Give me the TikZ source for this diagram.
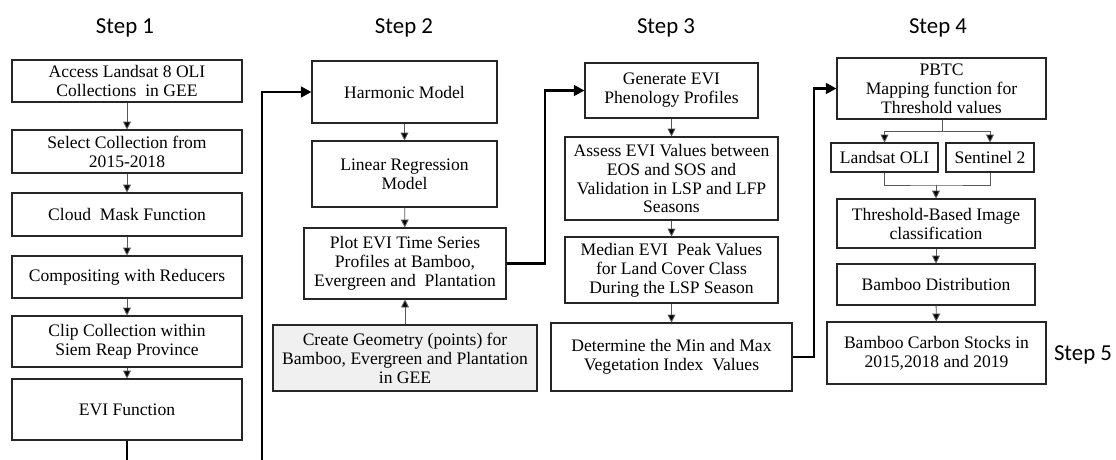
\documentclass[tikz,border=0pt]{standalone}
\usepackage{fontspec}
\setmainfont{Liberation Serif}
\newfontfamily\stepfont{Carlito}
\usepackage{tikz}
\usetikzlibrary{calc, arrows.meta}

\tikzset{
	box/.style={draw=black!85, line width=0.6pt, align=center, inner sep=1pt,
		font=\fontsize{10}{10.8}\selectfont},
	greybox/.style={box, fill=black!6},
	steplabel/.style={font=\stepfont\fontsize{13}{15}\selectfont},
	flow/.style={draw=black!65, line width=0.5pt, -{Triangle[length=4.5pt,width=4.5pt,fill=black]}},
	plain/.style={draw=black!65, line width=0.5pt},
	link/.style={draw=black, line width=1.6pt, -{Triangle[length=6pt,width=6pt]}}
}

\begin{document}
\begin{tikzpicture}
	\useasboundingbox (0,0) rectangle (22.32,-9.18);
	
	%step labels
	\node[steplabel] (s1) at (2.50,-0.56) {Step 1};
	\node[steplabel] (s2) at (8.08,-0.56) {Step 2};
	\node[steplabel] (s3) at (13.32,-0.56) {Step 3};
	\node[steplabel] (s4) at (18.76,-0.56) {Step 4};
	\node[steplabel] (s5) at (21.66,-7.10) {Step 5};
	
	%step 1 - nodes
	\node[box, minimum width=4.6cm, minimum height=0.84cm] (access)  at (2.54,-1.62) {Access Landsat 8 OLI\\Collections\ \ in GEE};
	\node[box, minimum width=4.6cm, minimum height=0.86cm] (select)  at (2.54,-3.03) {Select Collection from\\2015-2018};
	\node[box, minimum width=4.6cm, minimum height=0.86cm] (cloud)   at (2.54,-4.29) {Cloud\ \ Mask Function};
	\node[box, minimum width=4.6cm, minimum height=0.84cm] (compos)  at (2.54,-5.54) {Compositing with Reducers};
	\node[box, minimum width=4.6cm, minimum height=1.02cm] (clip)    at (2.54,-6.83) {Clip Collection within\\Siem Reap Province};
	\node[box, minimum width=4.6cm, minimum height=1.22cm] (evi)     at (2.54,-8.19) {EVI Function};
	
		%step 1 - lines
		\draw[flow] (access) -- (select);
		\draw[flow] (select) -- (cloud);
		\draw[flow] (cloud)  -- (compos);
		\draw[flow] (compos) -- (clip);
		\draw[flow] (clip)   -- (evi);
	
	%step 2 - nodes
	\node[box, minimum width=3.7cm, minimum height=1.24cm]      (harm)    at (8.09,-1.84) {Harmonic Model};
	\node[box, minimum width=3.7cm, minimum height=1.32cm]      (linreg)  at (8.09,-3.48) {Linear Regression\\Model};
	\node[box, minimum width=4.04cm, minimum height=1.42cm]     (plot)    at (8.10,-5.27) {Plot EVI Time Series\\Profiles at Bamboo,\\Evergreen and\ \ Plantation};
	\node[greybox, minimum width=5.28cm, minimum height=1.32cm] (geom)    at (8.10,-7.16) {Create Geometry (points) for\\Bamboo, Evergreen and Plantation\\in GEE};
	
		%step 2 - lines
		\draw[flow] (harm)   -- (linreg);
		\draw[flow] (linreg) -- (plot);
		\draw[flow] (geom)   -- (plot);
	
	%step 3 - nodes
	\node[box, minimum width=3.46cm, minimum height=1.1cm]  (gen)     at (13.43,-1.81) {Generate EVI\\Phenology Profiles};
	\node[box, minimum width=4.26cm, minimum height=1.66cm] (assess)  at (13.43,-3.57) {Assess EVI Values between\\EOS and SOS and\\Validation in LSP and LFP\\Seasons};
	\node[box, minimum width=4.26cm, minimum height=1.32cm] (median)  at (13.43,-5.40) {Median EVI\ \ Peak Values\\for Land\ Cover Class\\During the LSP Season};
	\node[box, minimum width=4.82cm, minimum height=1.36cm] (determ)  at (13.43,-7.14) {Determine the Min and\ Max\\Vegetation Index\ \ Values};
	
		%step 3 - lines
		\draw[flow] (gen)    -- (assess);
		\draw[flow] (assess) -- (median);
		\draw[flow] (median) -- (determ);
	
	%step 4 - nodes
	\node[box, minimum width=4.18cm, minimum height=1.22cm] (pbtc)     at (18.83,-1.77) {PBTC\\Mapping function for\\Threshold values};
	\node[box, minimum width=2.14cm, minimum height=0.58cm] (landsat)  at (17.69,-3.15) {Landsat OLI};
	\node[box, minimum width=1.76cm, minimum height=0.58cm] (sentinel) at (19.80,-3.15) {Sentinel 2};
	\node[box, minimum width=3.96cm, minimum height=0.98cm] (thresh)   at (18.72,-4.47) {Threshold-Based Image\\classification};
	\node[box, minimum width=3.96cm, minimum height=0.82cm] (dist)     at (18.72,-5.69) {Bamboo Distribution};
	\node[box, minimum width=4.38cm, minimum height=1.24cm] (carbon)   at (18.73,-7.06) {Bamboo Carbon Stocks in\\2015,2018 and 2019};
	
		%step 4 - lines
		\coordinate (split) at (18.84,-2.62);
		\coordinate (merge) at (18.72,-3.70);
		\draw[plain] (pbtc.south -| split) -- (split);
		\draw[flow] (split) -| (landsat.north);
		\draw[flow] (split) -| (sentinel.north);
		\draw[plain] (landsat.south) |- (merge) -| (sentinel.south);
		\draw[flow] (merge)  -- (thresh.north);
		\draw[flow] (thresh) -- (dist);
		\draw[flow] (dist)   -- (carbon);
	
	%links between steps
	\coordinate (bend1) at (5.24,-9.6);
	\coordinate (bend2) at (10.90,0);
	\coordinate (bend3) at (16.28,0);
	\draw[link] (evi.south) -- (evi.south |- bend1) -- (bend1) |- (harm.west);		%evi--harmonic
	\draw[link] (plot.east) -- (plot.east -| bend2) |- (gen.west);					%plot--generate
	\draw[link] (determ.east) -- (determ.east -| bend3) |- (pbtc.west);				%determine--pbtc
\end{tikzpicture}
\end{document}
